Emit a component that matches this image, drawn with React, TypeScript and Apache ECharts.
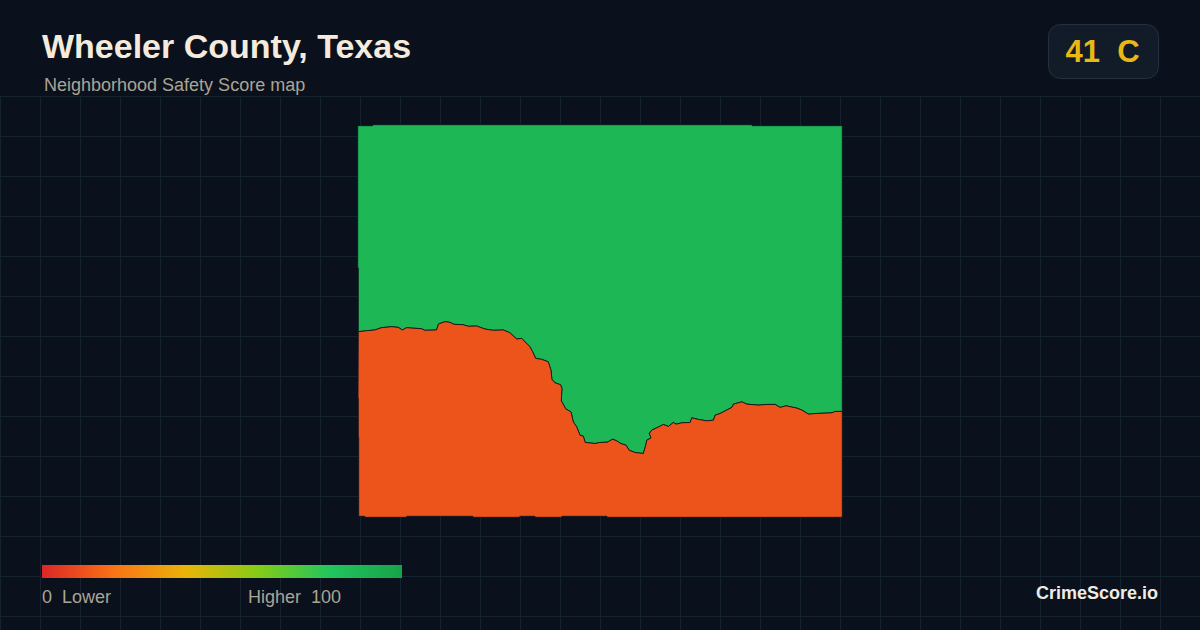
import React, { useEffect, useRef } from "react";
import * as echarts from "echarts";

const TITLE = "Wheeler County, Texas";
const SUBTITLE = "Neighborhood Safety Score map";
const BADGE = "41  C";
const BRAND = "CrimeScore.io";
const LEGEND_LOW = "0  Lower";
const LEGEND_HIGH = "Higher  100";
const LEGEND_COLORS = ["#dc2626", "#f97316", "#eab308", "#84cc16", "#22c55e", "#16a34a"];

const regionNames = ["Upper area", "Lower area"];
const regionScores = [88, 12];

// Shared edge between the two areas (x, y in image pixels)
const dividingEdge: number[][] = [
  [358.6, 331.7], [366.7, 330.7], [375, 330], [381.7, 327.7], [391.7, 326.7], [398.3, 327.3],
  [402.7, 330], [406.7, 327.7], [421.7, 328.7], [425, 330.3], [436.7, 330], [438.7, 324],
  [445, 321.7], [450, 322.3], [454, 324.3], [463.3, 324.7], [468.3, 326.3], [476.7, 326],
  [485, 329], [493.3, 330.3], [503.3, 330], [510, 332.7], [516.7, 339], [521.7, 338.3],
  [530, 346.7], [532.7, 351.7], [535.7, 358.3], [541.7, 359.3], [548.3, 361.7], [551, 370],
  [552, 379.3], [555, 382.7], [560.7, 384.7], [562, 388.3], [561.3, 400.7], [566, 409],
  [571, 411.7], [573.3, 421.7], [576.7, 426.7], [580, 435], [583.3, 436], [585.3, 442.3],
  [595, 443.3], [600, 442.3], [607.3, 442], [612.7, 439], [616.7, 440.7], [620.7, 443.3],
  [626, 445], [629, 450], [635, 452.3], [643.3, 453.3], [645.7, 445], [646.7, 440],
  [651, 437.7], [649.3, 433.3], [651.7, 430], [660, 426], [663.3, 424.3], [668.3, 426.3],
  [673.3, 422.3], [676, 424], [681.7, 422.7], [690, 422.3], [691.7, 417.7], [698.3, 419.3],
  [706.7, 420.7], [713.3, 420], [715, 415], [720, 413.3], [731.7, 407.3], [733.3, 404],
  [741.7, 401.7], [746.7, 404], [758.3, 405], [766.7, 404.3], [775, 404.3], [780, 407.3],
  [785.7, 405.7], [796.7, 408], [801.7, 410], [808.3, 414], [816.7, 413.3], [831.7, 412.7],
  [835, 411.3], [842, 411.3],
];
const upperOuter: number[][] = [
  [842, 126], [752, 126], [752, 125], [373, 125], [373, 126], [358, 126], [358, 268], [358.6, 268],
];
const lowerOuter: number[][] = [
  [842, 517], [607, 517], [607, 516], [562, 516], [562, 517], [535, 517], [535, 516], [520, 516],
  [520, 517], [473, 517], [473, 516], [407, 516], [407, 517], [365, 517], [365, 516], [359, 516],
  [359, 437], [358.6, 437], [358.6, 398], [358.3, 398],
];

const toGeo = (pts: number[][]) => pts.map(([x, y]) => [x, -y]);
const ring = (pts: number[][]) => {
  const g = toGeo(pts);
  return [...g, g[0]];
};

const geoJson = {
  type: "FeatureCollection",
  features: [
    {
      type: "Feature",
      properties: { name: regionNames[0] },
      geometry: { type: "Polygon", coordinates: [ring([...dividingEdge, ...upperOuter])] },
    },
    {
      type: "Feature",
      properties: { name: regionNames[1] },
      geometry: { type: "Polygon", coordinates: [ring([...dividingEdge, ...lowerOuter])] },
    },
  ],
};

const BG = "#0a111c";
const GRID = "#14232e";
const SANS = '"Liberation Sans", Arial, Helvetica, sans-serif';

export default function App() {
  const ref = useRef<HTMLDivElement>(null);
  useEffect(() => {
    document.body.style.margin = "0";
    document.body.style.background = BG;
    const chart = echarts.init(ref.current!, undefined, { renderer: "svg", width: 1200, height: 630 });
    echarts.registerMap("wheeler", geoJson as any);

    const gridLines: any[] = [];
    for (let x = 0; x <= 1200; x += 40) {
      gridLines.push({
        type: "line", silent: true, z: -1,
        shape: { x1: x + 0.5, y1: 96, x2: x + 0.5, y2: 630 },
        style: { stroke: GRID, lineWidth: 1 },
      });
    }
    for (let y = 96; y <= 630; y += 40) {
      gridLines.push({
        type: "line", silent: true, z: -1,
        shape: { x1: 0, y1: y + 0.5, x2: 1200, y2: y + 0.5 },
        style: { stroke: GRID, lineWidth: 1 },
      });
    }

    chart.setOption({
      animation: false,
      backgroundColor: BG,
      tooltip: { show: false },
      visualMap: {
        type: "continuous",
        show: false,
        seriesIndex: 0,
        min: 0,
        max: 100,
        inRange: { color: LEGEND_COLORS },
      },
      series: [
        {
          type: "map",
          map: "wheeler",
          aspectScale: 1,
          left: 357.7,
          top: 124.7,
          width: 484.6,
          height: 392.6,
          roam: false,
          silent: true,
          selectedMode: false,
          label: { show: false },
          emphasis: { disabled: true },
          itemStyle: { borderColor: BG, borderWidth: 0.8 },
          data: regionNames.map((name, i) => ({ name, value: regionScores[i] })),
        },
      ],
      graphic: [
        ...gridLines,
        {
          type: "rect", z: 5,
          shape: { x: 42, y: 565, width: 360, height: 13 },
          style: {
            fill: new echarts.graphic.LinearGradient(
              0, 0, 1, 0,
              LEGEND_COLORS.map((color, i) => ({ offset: i / (LEGEND_COLORS.length - 1), color }))
            ),
          },
        },
        {
          type: "text", x: 42, y: 46, z: 5,
          style: { text: TITLE, fill: "#f5ebdc", font: `bold 34px ${SANS}`, textVerticalAlign: "middle" },
        },
        {
          type: "text", x: 44, y: 85, z: 5,
          style: { text: SUBTITLE, fill: "#aba494", font: `18px ${SANS}`, textVerticalAlign: "middle" },
        },
        {
          type: "rect", z: 5,
          shape: { x: 1048.5, y: 24.5, width: 110, height: 54, r: 12 },
          style: { fill: "#111c28", stroke: "#243040", lineWidth: 1 },
        },
        {
          type: "text", x: 1102.5, y: 51, z: 6,
          style: { text: BADGE, fill: "#e8b816", font: `bold 31px ${SANS}`, textAlign: "center", textVerticalAlign: "middle" },
        },
        {
          type: "text", x: 42, y: 597, z: 5,
          style: { text: LEGEND_LOW, fill: "#aba494", font: `18px ${SANS}`, textVerticalAlign: "middle" },
        },
        {
          type: "text", x: 341, y: 597, z: 5,
          style: { text: LEGEND_HIGH, fill: "#aba494", font: `18px ${SANS}`, textAlign: "right", textVerticalAlign: "middle" },
        },
        {
          type: "text", x: 1158, y: 593, z: 5,
          style: { text: BRAND, fill: "#f0ebe3", font: `bold 18px ${SANS}`, textAlign: "right", textVerticalAlign: "middle" },
        },
      ],
    });
    return () => chart.dispose();
  }, []);
  return <div ref={ref} style={{ width: 1200, height: 630 }} />;
}
